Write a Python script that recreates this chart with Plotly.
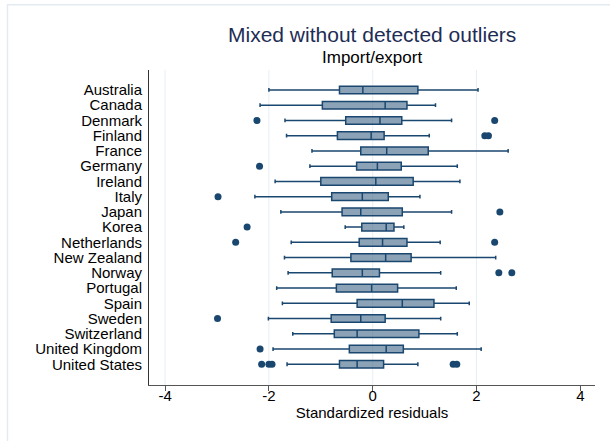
import plotly.graph_objects as go

countries = ["Australia", "Canada", "Denmark", "Finland", "France", "Germany",
             "Ireland", "Italy", "Japan", "Korea", "Netherlands", "New Zealand",
             "Norway", "Portugal", "Spain", "Sweden", "Switzerland",
             "United Kingdom", "United States"]
lower_whisker = [-2.00, -2.17, -1.69, -1.66, -1.17, -1.21, -1.88, -2.27, -1.77, -0.53,
                 -1.57, -1.70, -1.63, -1.85, -1.74, -2.01, -1.54, -1.92, -1.65]
q1 = [-0.64, -0.97, -0.52, -0.68, -0.23, -0.31, -1.00, -0.79, -0.59, -0.21,
      -0.26, -0.42, -0.78, -0.70, -0.30, -0.80, -0.74, -0.45, -0.64]
median = [-0.19, 0.24, 0.14, -0.03, 0.27, 0.09, 0.06, -0.20, -0.23, 0.26,
          0.19, 0.25, -0.20, -0.02, 0.57, -0.23, -0.30, 0.26, -0.30]
q3 = [0.87, 0.66, 0.56, 0.22, 1.07, 0.55, 0.78, 0.30, 0.57, 0.41,
      0.66, 0.74, 0.13, 0.48, 1.18, 0.24, 0.89, 0.59, 0.21]
upper_whisker = [2.03, 1.21, 1.52, 1.09, 2.61, 1.63, 1.68, 0.91, 1.52, 0.60,
                 1.30, 2.37, 1.31, 1.61, 1.86, 1.31, 1.63, 2.09, 0.87]
outlier_country = ["Denmark", "Denmark", "Finland", "Finland", "Germany", "Italy",
                   "Japan", "Korea", "Netherlands", "Netherlands", "Norway", "Norway",
                   "Sweden", "United Kingdom", "United States", "United States",
                   "United States", "United States", "United States"]
outlier_value = [-2.23, 2.35, 2.16, 2.23, -2.18, -2.98, 2.45, -2.42, -2.64, 2.35,
                 2.43, 2.68, -2.99, -2.17, -2.14, -2.00, -1.94, 1.55, 1.62]
x_ticks = [-4, -2, 0, 2, 4]
grid_ticks = [-4, -2, 0, 2]

NAVY = "#1a476f"
FONT = "Liberation Sans, Arial, sans-serif"

fig = go.Figure()
fig.add_trace(go.Box(
    y=countries, q1=q1, median=median, q3=q3,
    lowerfence=lower_whisker, upperfence=upper_whisker,
    orientation="h", width=0.5, whiskerwidth=0.5,
    fillcolor="rgba(26,71,111,0.5)", line=dict(color=NAVY, width=1.5),
    boxpoints=False, showlegend=False, hoverinfo="skip",
))
fig.add_trace(go.Scatter(
    x=outlier_value, y=outlier_country, mode="markers",
    marker=dict(color=NAVY, size=7), showlegend=False, hoverinfo="skip",
))

# light vertical gridlines (none at the last tick, as in the reference)
for g in grid_ticks:
    fig.add_shape(type="line", xref="x", yref="paper", x0=g, x1=g, y0=0, y1=1,
                  line=dict(color="#e8eff4", width=1), layer="below")

# light outer frame of the graph region
fig.add_shape(type="rect", xref="paper", yref="paper",
              x0=-0.3173, x1=1.06, y0=-0.2, y1=1.2073,
              line=dict(color="#e3ebf1", width=1.5), fillcolor="rgba(0,0,0,0)",
              layer="below")

fig.add_annotation(text="Mixed without detected outliers", xref="paper", yref="paper",
                   x=0.5, y=1.114, xanchor="center", yanchor="middle", showarrow=False,
                   font=dict(family=FONT, size=21, color="#1e2d55"))
fig.add_annotation(text="Import/export", xref="paper", yref="paper",
                   x=0.5, y=1.041, xanchor="center", yanchor="middle", showarrow=False,
                   font=dict(family=FONT, size=17, color="#000000"))

fig.update_layout(
    width=610, height=441,
    margin=dict(l=149, r=15, t=70, b=56),
    paper_bgcolor="white", plot_bgcolor="white",
    font=dict(family=FONT, size=15, color="#000000"),
    xaxis=dict(
        range=[-4.31, 4.283], tickmode="array", tickvals=x_ticks,
        ticktext=[str(v) for v in x_ticks],
        showgrid=False, zeroline=False,
        showline=True, linecolor="#555555", linewidth=1,
        ticks="outside", ticklen=5, tickcolor="#555555",
        ticklabelstandoff=-8,
        tickfont=dict(family=FONT, size=15, color="#000000"),
        title=dict(text="Standardized residuals", standoff=2,
                   font=dict(family=FONT, size=15, color="#000000")),
    ),
    yaxis=dict(
        type="category", categoryorder="array", categoryarray=countries,
        tickmode="array", tickvals=countries, ticktext=countries,
        range=[19.36, -1.31], showgrid=False, zeroline=False,
        showline=True, linecolor="#333333", linewidth=1,
        ticks="outside", ticklen=3, tickcolor="rgba(0,0,0,0)",
        tickfont=dict(family=FONT, size=15, color="#000000"),
    ),
)

fig.write_html("out.html")
